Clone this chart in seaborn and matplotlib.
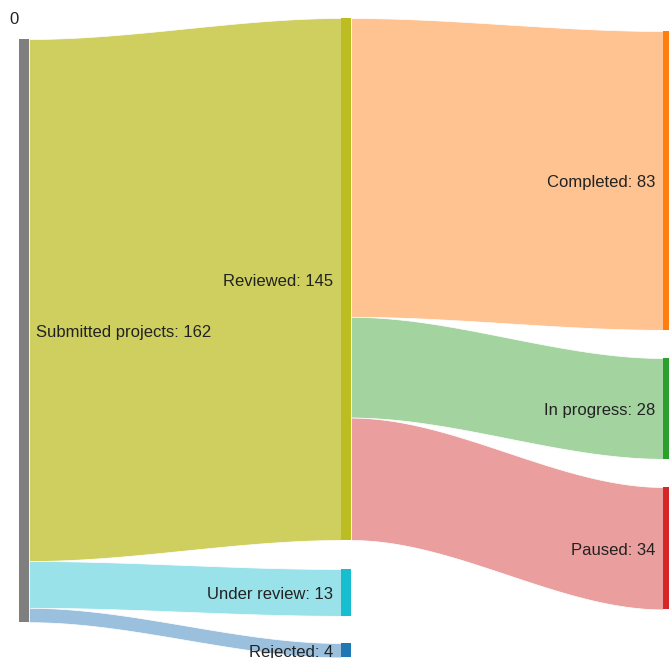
import numpy as np
import matplotlib.pyplot as plt
import seaborn as sns
from matplotlib.patches import Rectangle

# Data
nodes = ["Submitted projects", "Reviewed", "Under review", "Rejected",
         "Completed", "In progress", "Paused"]
sources = [0, 0, 0, 1, 1, 1]
targets = [1, 2, 3, 4, 5, 6]
values = [145, 13, 4, 83, 28, 34]

# Layout (pixel space)
col_x = [19, 341, 663]
node_col = [0, 1, 1, 1, 2, 2, 2]
node_top = [39, 18, 569, 643, 31, 358, 487]
node_w = 10
scale = 3.6  # px per project

sns.set_theme(style="white")
plt.rcParams['font.family'] = ['Liberation Sans', 'DejaVu Sans']

tab = sns.color_palette("tab10")
node_colors = [tab[7], tab[8], tab[9], tab[0], tab[1], tab[2], tab[3]]
link_colors = ["#cfcf5f", "#99e2ea", "#9bc0de", "#ffc291", "#a3d4a0", "#eb9e9e"]

node_val = []
for i in range(len(nodes)):
    inc = sum(v for t, v in zip(targets, values) if t == i)
    out = sum(v for s, v in zip(sources, values) if s == i)
    node_val.append(max(inc, out))

fig = plt.figure(figsize=(6.69, 6.58), dpi=100)
ax = fig.add_axes([0, 0, 1, 1])
ax.set_xlim(0, 669)
ax.set_ylim(658, 0)
ax.axis('off')

# links
out_off = [0.0] * len(nodes)
in_off = [0.0] * len(nodes)
t = np.linspace(0, 1, 200)
s = 3 * t ** 2 - 2 * t ** 3
for src, tgt, val, c in zip(sources, targets, values, link_colors):
    h = val * scale
    y0 = node_top[src] + out_off[src]
    y1 = node_top[tgt] + in_off[tgt]
    out_off[src] += h
    in_off[tgt] += h
    x0 = col_x[node_col[src]] + node_w
    x1 = col_x[node_col[tgt]]
    xs = x0 + (x1 - x0) * t
    top = y0 + (y1 - y0) * s
    ax.fill_between(xs, top, top + h, color=c, lw=0.5, edgecolor='white', zorder=1)

# nodes + labels
fs = 12
for i, name in enumerate(nodes):
    x = col_x[node_col[i]]
    h = node_val[i] * scale
    ax.add_patch(Rectangle((x, node_top[i]), node_w, h, color=node_colors[i], lw=0, zorder=2))
    yc = node_top[i] + h / 2 + 2
    label = f"{name}: {node_val[i]}"
    if node_col[i] == 0:
        ax.text(x + node_w + 7, yc, label, ha='left', va='center', fontsize=fs, color='#222222', zorder=3)
    else:
        ax.text(x - 8, yc, label, ha='right', va='center', fontsize=fs, color='#222222', zorder=3)

ax.text(14, 19, "0", ha='center', va='center', fontsize=fs, color='#222222')

fig.savefig("out.png", dpi=100)
